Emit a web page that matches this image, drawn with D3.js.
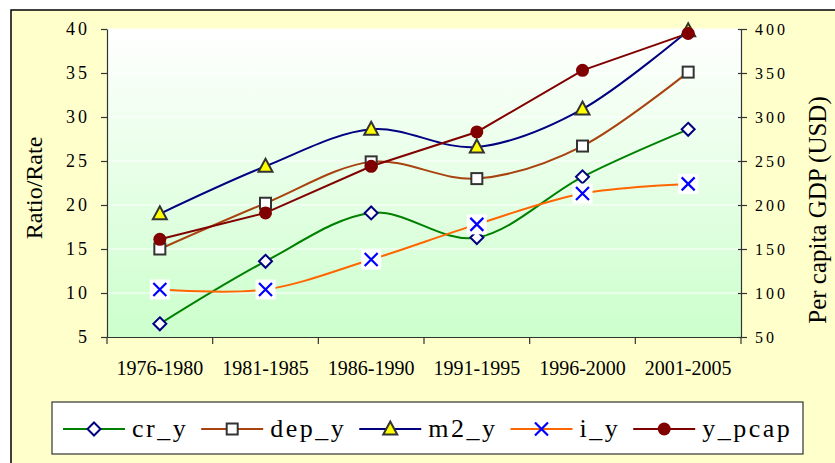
<!DOCTYPE html>
<html>
<head>
<meta charset="utf-8">
<script src="https://cdn.jsdelivr.net/npm/d3@7/dist/d3.min.js"></script>
<style>
  html, body { margin: 0; padding: 0; background: #ffffff; }
  svg { display: block; }
  text { font-family: "Liberation Serif", "Times New Roman", serif; fill: #000; }
</style>
</head>
<body>
<svg id="chart" width="835" height="463"></svg>
<script>
// Five-year periods
const periods = ["1976-1980", "1981-1985", "1986-1990", "1991-1995", "1996-2000", "2001-2005"];

// Ratios / rates (left axis, %)
const cr_y  = [6.5, 13.6, 19.1, 16.3, 23.2, 28.6];
const dep_y = [15.0, 20.2, 24.9, 23.0, 26.7, 35.1];
const m2_y  = [19.0, 24.4, 28.6, 26.6, 30.9, 39.8];
const i_y   = [10.4, 10.4, 13.8, 17.8, 21.3, 22.4];

// Per capita GDP (right axis, USD)
const y_pcap = [161, 191, 244, 283, 353, 395];

const leftTicks  = [5, 10, 15, 20, 25, 30, 35, 40];
const rightTicks = [50, 100, 150, 200, 250, 300, 350, 400];

const svg = d3.select("#chart");
const W = 835, H = 463;
const plot = { left: 107, right: 741, top: 29, bottom: 337 };

// Chart frame
svg.append("rect")
  .attr("x", 11).attr("y", 10)
  .attr("width", W + 20).attr("height", H + 20)
  .attr("fill", "#ffffcc")
  .attr("stroke", "#000").attr("stroke-width", 1.5);

// Plot background gradient
const defs = svg.append("defs");
const grad = defs.append("linearGradient")
  .attr("id", "plotBg").attr("x1", 0).attr("y1", 0).attr("x2", 0).attr("y2", 1);
grad.append("stop").attr("offset", "0%").attr("stop-color", "#ffffff");
grad.append("stop").attr("offset", "100%").attr("stop-color", "#ccffcc");

svg.append("rect")
  .attr("x", plot.left).attr("y", plot.top)
  .attr("width", plot.right - plot.left).attr("height", plot.bottom - plot.top)
  .attr("fill", "url(#plotBg)");

// Scales
const x = d3.scaleBand().domain(periods).range([plot.left, plot.right]);
const yL = d3.scaleLinear().domain([5, 40]).range([plot.bottom, plot.top]);
const yR = d3.scaleLinear().domain([50, 400]).range([plot.bottom, plot.top]);
const cx = d => x(d) + x.bandwidth() / 2;

// Gridlines
svg.append("g").selectAll("line")
  .data(leftTicks.slice(1))
  .join("line")
  .attr("x1", plot.left).attr("x2", plot.right)
  .attr("y1", d => yL(d)).attr("y2", d => yL(d))
  .attr("stroke", "#ffffff").attr("stroke-width", 1.2);

// Axes
const axisColor = "#333333";
const leftAxis = svg.append("g")
  .attr("transform", `translate(${plot.left},0)`)
  .call(d3.axisLeft(yL).tickValues(leftTicks).tickSize(6).tickPadding(11).tickSizeOuter(0));
const rightAxis = svg.append("g")
  .attr("transform", `translate(${plot.right},0)`)
  .call(d3.axisRight(yR).tickValues(rightTicks).tickSize(6).tickPadding(8).tickSizeOuter(0));
rightAxis.selectAll(".tick line").attr("x1", -3);

const bottomAxis = svg.append("g")
  .attr("transform", `translate(0,${plot.bottom})`)
  .call(d3.axisBottom(x).tickSize(0).tickSizeOuter(0).tickPadding(24));
// category boundary ticks
const bounds = periods.map(p => x(p)).concat([plot.right]);
bottomAxis.selectAll(".bound")
  .data(bounds)
  .join("line")
  .attr("class", "bound")
  .attr("x1", d => d).attr("x2", d => d)
  .attr("y1", 0).attr("y2", 7)
  .attr("stroke", axisColor).attr("stroke-width", 1.2);

[leftAxis, rightAxis, bottomAxis].forEach(g => {
  g.select(".domain").attr("stroke", axisColor).attr("stroke-width", 1.2);
  g.selectAll(".tick line").attr("stroke", axisColor).attr("stroke-width", 1.2);
  g.selectAll("text")
    .style("font-family", "'Liberation Serif', 'Times New Roman', serif")
    .attr("fill", "#000");
});
leftAxis.selectAll("text").style("font-size", "18px").style("letter-spacing", "3px");
rightAxis.selectAll("text").style("font-size", "16px").style("letter-spacing", "3px");
bottomAxis.selectAll("text").style("font-size", "20px").style("letter-spacing", "0px");

// Axis titles
svg.append("text")
  .attr("transform", "translate(42,188) rotate(-90)")
  .attr("text-anchor", "middle")
  .style("font-size", "24px")
  .text("Ratio/Rate");
svg.append("text")
  .attr("transform", "translate(826,210) rotate(-90)")
  .attr("text-anchor", "middle")
  .style("font-size", "25px")
  .text("Per capita GDP (USD)");

// Series definitions
const series = [
  { name: "cr_y",   values: cr_y,   y: yL, line: "#008000", marker: "diamond",  curve: d3.curveCardinal.tension(0) },
  { name: "dep_y",  values: dep_y,  y: yL, line: "#a84310", marker: "square",   curve: d3.curveCardinal.tension(0) },
  { name: "m2_y",   values: m2_y,   y: yL, line: "#000080", marker: "triangle", curve: d3.curveCardinal.tension(0) },
  { name: "i_y",    values: i_y,    y: yL, line: "#ff6600", marker: "cross",    curve: d3.curveCardinal.tension(0) },
  { name: "y_pcap", values: y_pcap, y: yR, line: "#800000", marker: "circle",   curve: d3.curveLinear }
];

function drawMarker(g, type, px, py, inLegend) {
  if (type === "diamond") {
    const r = 6.5;
    g.append("path")
      .attr("d", `M${px},${py - r}L${px + r},${py}L${px},${py + r}L${px - r},${py}Z`)
      .attr("fill", "#ffffff").attr("stroke", "#000080").attr("stroke-width", 2);
  } else if (type === "square") {
    const s = 11;
    g.append("rect")
      .attr("x", px - s / 2).attr("y", py - s / 2).attr("width", s).attr("height", s)
      .attr("fill", "#ffffff").attr("stroke", "#333333").attr("stroke-width", 2);
  } else if (type === "triangle") {
    g.append("path")
      .attr("d", `M${px},${py - 7.5}L${px + 7},${py + 5.5}L${px - 7},${py + 5.5}Z`)
      .attr("fill", "#ffff00").attr("stroke", "#333333").attr("stroke-width", 2)
      .attr("stroke-linejoin", "miter");
  } else if (type === "cross") {
    if (!inLegend) {
      g.append("rect")
        .attr("x", px - 10).attr("y", py - 10).attr("width", 20).attr("height", 20)
        .attr("fill", "#ffffff");
    }
    const r = 6.5;
    g.append("path")
      .attr("d", `M${px - r},${py - r}L${px + r},${py + r}M${px + r},${py - r}L${px - r},${py + r}`)
      .attr("stroke", "#0000ff").attr("stroke-width", 2.2).attr("fill", "none");
  } else if (type === "circle") {
    g.append("circle")
      .attr("cx", px).attr("cy", py).attr("r", 6.5)
      .attr("fill", "#800000");
  }
}

// Lines
const linesG = svg.append("g");
series.forEach(s => {
  const gen = d3.line()
    .x((d, i) => cx(periods[i]))
    .y(d => s.y(d))
    .curve(s.curve);
  linesG.append("path")
    .datum(s.values)
    .attr("d", gen)
    .attr("fill", "none")
    .attr("stroke", s.line)
    .attr("stroke-width", 2);
});

// Markers
const markersG = svg.append("g");
series.forEach(s => {
  const g = markersG.append("g");
  s.values.forEach((v, i) => drawMarker(g, s.marker, cx(periods[i]), s.y(v), false));
});

// Legend
const legend = svg.append("g");
legend.append("rect")
  .attr("x", 52).attr("y", 402).attr("width", 751).attr("height", 52)
  .attr("fill", "#ffffff").attr("stroke", "#333333").attr("stroke-width", 1.2);

let lx = 63;
const ly = 429;
series.forEach(s => {
  const g = legend.append("g");
  g.append("line")
    .attr("x1", lx).attr("x2", lx + 62).attr("y1", ly).attr("y2", ly)
    .attr("stroke", s.line).attr("stroke-width", 2);
  drawMarker(g, s.marker, lx + 31, ly, true);
  const t = g.append("text")
    .attr("x", lx + 69).attr("y", ly + 8)
    .style("font-size", "26px")
    .style("letter-spacing", "2.5px")
    .text(s.name);
  lx = lx + 69 + t.node().getComputedTextLength() + 13;
});
</script>
</body>
</html>
